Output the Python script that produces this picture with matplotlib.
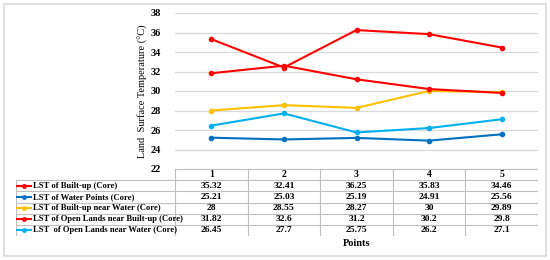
import matplotlib.pyplot as plt
from matplotlib.patches import Rectangle
from matplotlib.lines import Line2D

plt.rcParams['font.family'] = ['Liberation Serif', 'DejaVu Serif']
plt.rcParams['font.weight'] = 'bold'

points = [1, 2, 3, 4, 5]
series_names = ['LST of Built-up (Core)',
                'LST of Water Points (Core)',
                'LST of Built-up near Water (Core)',
                'LST of Open Lands near Built-up (Core)',
                'LST  of Open Lands near Water (Core)']
built_up = [35.32, 32.41, 36.25, 35.83, 34.46]
water_points = [25.21, 25.03, 25.19, 24.91, 25.56]
built_near_water = [28, 28.55, 28.27, 30, 29.89]
open_near_built = [31.82, 32.6, 31.2, 30.2, 29.8]
open_near_water = [26.45, 27.7, 25.75, 26.2, 27.1]
series = [built_up, water_points, built_near_water, open_near_built, open_near_water]
colors = ['#FF0000', '#0070C0', '#FFC000', '#FF0000', '#00B0F0']

W, H = 550, 260
fig = plt.figure(figsize=(5.5, 2.6), dpi=100)

def fx(px):
    return px / W

def fy(py):
    return 1 - py / H

# outer frame
fig.patches.append(Rectangle((fx(4), fy(256)), fx(542), 252 / H, transform=fig.transFigure,
                             fill=False, edgecolor='#D9D9D9', lw=1.2))

# main plot
x0, x1 = 175, 538
ax = fig.add_axes([fx(x0), fy(169), fx(x1 - x0), (169 - 13) / H])
for s, c in zip(series, colors):
    ax.plot(points, s, color=c, lw=1.5, marker='o', ms=3)
ax.set_xlim(0.5, 5.5)
ax.set_ylim(22, 38)
ax.set_yticks(range(22, 39, 2))
ax.set_xticks([])
ax.grid(axis='y', color='#D9D9D9', lw=0.9)
ax.set_axisbelow(True)
for k in ['top', 'right', 'left', 'bottom']:
    ax.spines[k].set_visible(False)
ax.tick_params(axis='y', length=0, labelsize=7.5, pad=10)
ax.set_ylabel('Land  Surface Temperature (°C)', fontsize=7.5, labelpad=2)

# data table
unit = (x1 - x0) / 5.0
lab_left = 16
tx0 = 0.5 - (x0 - lab_left) / unit
ty_top, ty_bot = 169, 236
tab = fig.add_axes([fx(lab_left), fy(ty_bot), fx(x1 - lab_left), (ty_bot - ty_top) / H])
tab.set_xlim(tx0, 5.5)
tab.set_ylim(6, 0)
tab.axis('off')
gc = '#BFBFBF'
nrows = len(series)
# horizontal lines
tab.plot([0.5, 5.5], [0, 0], color=gc, lw=0.8)
for r in range(1, nrows + 2):
    tab.plot([tx0, 5.5], [r, r], color=gc, lw=0.8)
# vertical lines
tab.plot([tx0, tx0], [1, nrows + 1], color=gc, lw=0.8)
for p in range(6):
    tab.plot([0.5 + p, 0.5 + p], [0, nrows + 1], color=gc, lw=0.8)
for p in points:
    tab.text(p, 0.5, str(p), ha='center', va='center', fontsize=7)
for r, (name, s, c) in enumerate(zip(series_names, series, colors)):
    y = r + 1.5
    tab.add_line(Line2D([tx0 + 0.02, tx0 + 0.2], [y, y], color=c, lw=1.5))
    tab.plot([tx0 + 0.11], [y], color=c, marker='o', ms=2.5)
    tab.text(tx0 + 0.23, y, name, ha='left', va='center', fontsize=6.2)
    for p, v in zip(points, s):
        tab.text(p, y, f'{v:g}', ha='center', va='center', fontsize=6.8)

fig.text(fx(357), fy(243), 'Points', ha='center', va='center', fontsize=7.5)

fig.savefig('out.png', dpi=100)
